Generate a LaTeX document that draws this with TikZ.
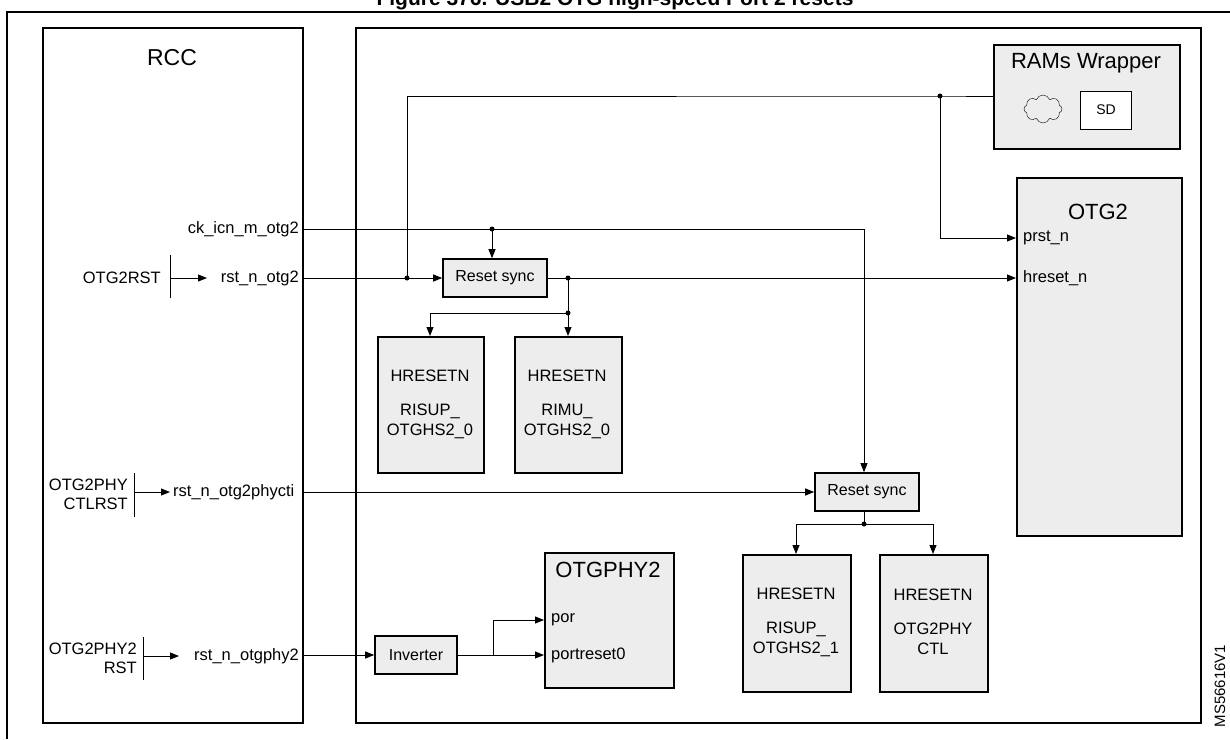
\documentclass[tikz,border=0pt]{standalone}
\usepackage{fontspec}
\setmainfont{Liberation Sans}
\usetikzlibrary{arrows.meta,shapes.symbols}
\begin{document}
\begin{tikzpicture}[x=1pt,y=-1pt,
frame/.style={rectangle, draw=black, line width=1.6pt, anchor=north west, inner sep=0pt},
block/.style={rectangle, draw=black, line width=1.6pt, fill=black!7, anchor=north west, inner sep=0pt},
sync/.style={rectangle, draw=black, line width=1.6pt, fill=black!7, minimum width=104pt, minimum height=38pt, font=\fontsize{16}{18}\selectfont},
lbl/.style={font=\fontsize{16.5}{19}\selectfont, inner sep=1pt},
blocktext/.style={align=center, font=\fontsize{16.5}{20}\selectfont},
sig/.style={line width=1pt, -{Triangle[length=9pt,width=7pt]}},
wire/.style={line width=1pt},
dot/.style={circle, fill=black, inner sep=0pt, minimum size=5pt}
]
\useasboundingbox (0,0) rectangle (1230,739);
\node[font=\bfseries\fontsize{21}{22}\selectfont] (title) at (615,0) {Figure 376. USB2 OTG high-speed Port 2 resets};
\draw[line width=1.2pt] (7,739) -- (7,12) -- (1230,12);

% frames
\node[frame, minimum width=260pt, minimum height=695pt] (rcc) at (42,27) {};
\node[font=\fontsize{23}{26}\selectfont] at (172,58) {RCC};
\node[frame, minimum width=845pt, minimum height=695pt] (main) at (355,27) {};

% RAMs wrapper and OTG2
\node[block, minimum width=186pt, minimum height=104pt] (ram) at (993,44) {};
\node[font=\fontsize{22}{24}\selectfont] at (1086,63) {RAMs Wrapper};
\node[cloud, draw, cloud puffs=8, cloud puff arc=140, aspect=1.4, minimum width=38pt, minimum height=28pt, inner sep=0pt] (cloud) at (1043,109) {};
\node[rectangle, draw, fill=white, line width=0.8pt, minimum width=51pt, minimum height=38pt, font=\fontsize{14}{16}\selectfont] (sd) at (1106,110) {SD};
\node[block, minimum width=165pt, minimum height=358pt] (otg) at (1016,177) {};
\node[font=\fontsize{22}{24}\selectfont] at (1098,212) {OTG2};
\node[lbl, anchor=west] (prst) at (1022,238) {prst\_n};
\node[lbl, anchor=west] (hrst) at (1022,278) {hreset\_n};

% reset syncs and HRESETN blocks
\node[sync] (sync1) at (495,278) {Reset sync};
\node[sync] (sync2) at (867,492) {Reset sync};
\node[block, minimum width=106pt, minimum height=136pt] (hr1) at (377,336) {};
\node[blocktext] at (430,404) {HRESETN\\[14pt]RISUP\_\\OTGHS2\_0};
\node[block, minimum width=107pt, minimum height=136pt] (hr2) at (514,336) {};
\node[blocktext] at (567,404) {HRESETN\\[14pt]RIMU\_\\OTGHS2\_0};
\node[block, minimum width=108pt, minimum height=137pt] (hr3) at (742,554) {};
\node[blocktext] at (796,622) {HRESETN\\[14pt]RISUP\_\\OTGHS2\_1};
\node[block, minimum width=108pt, minimum height=137pt] (hr4) at (879,554) {};
\node[blocktext] at (933,622) {HRESETN\\[14pt]OTG2PHY\\CTL};

% OTGPHY2 and inverter
\node[block, minimum width=129pt, minimum height=135pt] (phy) at (544,552) {};
\node[font=\fontsize{22}{24}\selectfont] at (608,570) {OTGPHY2};
\node[lbl, anchor=west] (por) at (550,620) {por};
\node[lbl, anchor=west] (prt) at (550,655) {portreset0};
\node[sync, minimum width=82pt] (inv) at (416,655) {Inverter};

% RCC side labels
\node[lbl, anchor=east] (ck) at (300,229) {ck\_icn\_m\_otg2};
\node[lbl, anchor=east] (rst1) at (300,278) {rst\_n\_otg2};
\node[lbl, anchor=east] (src1) at (162,278) {OTG2RST};
\node[lbl, anchor=west] (rst2) at (172,492) {rst\_n\_otg2phycti};
\node[lbl, anchor=east, align=right] (src2) at (129,494) {OTG2PHY\\CTLRST};
\node[lbl, anchor=east] (rst3) at (300,656) {rst\_n\_otgphy2};
\node[lbl, anchor=east, align=right] (src3) at (138,658) {OTG2PHY2\\RST};
\node[rotate=90, font=\fontsize{15}{16}\selectfont] (ms) at (1220,686) {MS56616V1};

\draw[wire] (170,255) -- (170,298); \draw[sig] (170,278) -- (207,278);
\draw[wire] (134,473) -- (134,517); \draw[sig] (134,492) -- (170,492);
\draw[wire] (143,637) -- (143,680); \draw[sig] (143,656) -- (179,656);

% wiring
\coordinate (ja) at (407,278);
\coordinate (jb) at (940,96);
\coordinate (jc) at (492,229);
\coordinate (jd) at (568,278);
\coordinate (je) at (568,313);
\coordinate (jf) at (864,524);
\coordinate (jg) at (493,655);
\draw[wire] (ram.west |- jb) -- (jb) -- (407,96) -- (ja);
\draw[sig] (jb) -- (940,238) -- (otg.west |- prst);
\draw[sig] (302,278) -- (sync1.west);
\draw[wire] (302,229) -- (864,229);
\draw[sig] (864,229) -- (sync2.north -| jf);
\draw[sig] (jc) -- (sync1.north -| jc);
\draw[sig] (sync1.east) -- (otg.west |- hrst);
\draw[wire] (jd) -- (je);
\draw[sig] (je) -- (430,313) -- (430,336);
\draw[sig] (je) -- (568,336);
\draw[sig] (302,492) -- (sync2.west);
\draw[wire] (sync2.south -| jf) -- (jf);
\draw[sig] (jf) -- (796,524) -- (796,554);
\draw[sig] (jf) -- (933,524) -- (933,554);
\draw[sig] (302,655) -- (inv.west);
\draw[sig] (inv.east) -- (phy.west |- prt);
\draw[sig] (jg) -- (493,620) -- (phy.west |- por);
\foreach \j in {ja,jb,jc,jd,je,jf} \node[dot] at (\j) {};
\end{tikzpicture}
\end{document}
